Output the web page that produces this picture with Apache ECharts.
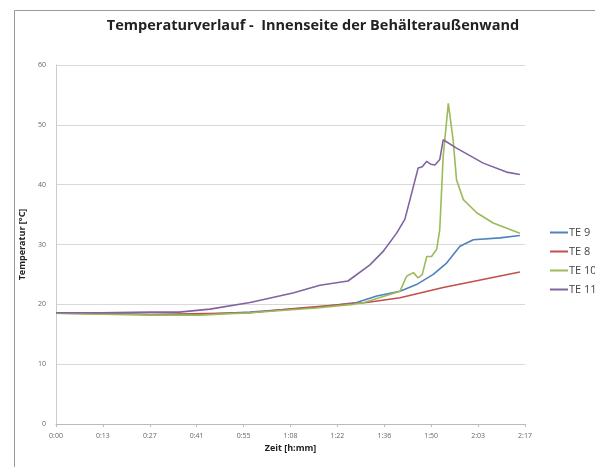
<!DOCTYPE html>
<html><head><meta charset="utf-8">
<script src="https://cdn.jsdelivr.net/npm/echarts@6/dist/echarts.min.js"></script>
<style>html,body{margin:0;padding:0;background:#fff}#c{width:595px;height:467px}</style>
</head><body><div id="c"></div>
<script>
// tick labels (x axis, h:mm) — 10 equal steps over 0..137 min
const xTickLabels = ['0:00','0:13','0:27','0:41','0:55','1:08','1:22','1:36','1:50','2:03','2:17'];
const xMaxMin = 137;
const yTicks = [0,10,20,30,40,50,60];

// series: time in minutes, temperature in °C
const te9T = [0, 27.5, 42, 56.7, 76, 87.8, 93.7, 100.5, 105.3, 110.2, 114.1, 118, 121.9, 129.7, 135.5];
const te9V = [18.6, 18.3, 18.3, 18.7, 19.5, 20.3, 21.4, 22.2, 23.3, 25.0, 26.9, 29.7, 30.8, 31.1, 31.5];

const te8T = [0, 27.5, 56.7, 71.3, 90.7, 100.5, 113.1, 120, 135.5];
const te8V = [18.5, 18.3, 18.6, 19.4, 20.3, 21.1, 22.8, 23.6, 25.4];

const te10T = [0, 27.5, 42, 56.7, 76, 86.8, 90, 100.5, 102.4, 104.4, 105.8, 107, 108.3, 109.7, 111.2, 112.1, 113.1, 114.6, 116, 117, 119, 122.9, 127.7, 135.5];
const te10V = [18.5, 18.2, 18.2, 18.6, 19.4, 20.0, 20.3, 22.2, 24.7, 25.3, 24.4, 25.0, 28.0, 28.0, 29.2, 32.5, 44.7, 53.6, 47.5, 40.8, 37.5, 35.3, 33.6, 31.9];

const te11T = [0, 12.9, 27.5, 36, 45, 56.7, 69.2, 77.1, 85.3, 91.7, 95.5, 99.5, 101.9, 103.4, 105.8, 107, 108.3, 109.5, 110.7, 112.1, 113.1, 117, 124.8, 131.6, 135.5];
const te11V = [18.6, 18.6, 18.7, 18.7, 19.2, 20.3, 21.9, 23.2, 23.9, 26.6, 28.8, 31.9, 34.2, 37.5, 42.8, 43.0, 43.9, 43.4, 43.3, 44.2, 47.5, 46.1, 43.6, 42.1, 41.7];

const names = ['TE 9','TE 8','TE 10','TE 11'];
const colors = ['#4F81BD','#C0504D','#9BBB59','#8064A2'];
const step = xMaxMin / (xTickLabels.length - 1);
function pts(t, v){ return t.map((x,i)=>[x/step, v[i]]); }
const data = [pts(te9T,te9V), pts(te8T,te8V), pts(te10T,te10V), pts(te11T,te11V)];

const chart = echarts.init(document.getElementById('c'), null, {renderer:'canvas'});
const font = '"Open Sans", "Liberation Sans", sans-serif';
chart.setOption({
  animation:false,
  backgroundColor:'#fff',
  textStyle:{fontFamily:font},
  title:{text:'Temperaturverlauf -  Innenseite der Behälteraußenwand', left:308, top:13, textAlign:'center',
    textStyle:{fontSize:14.5, fontWeight:'bold', color:'#222', fontFamily:font}},
  graphic:[{type:'rect', shape:{x:14.5,y:10.5,width:600,height:480}, style:{fill:'none', stroke:'#999', lineWidth:1}, silent:true, z:-1}],
  legend:{orient:'vertical', left:545, top:222, itemGap:8, itemWidth:18, itemHeight:2, icon:'rect',
    data:names, textStyle:{fontSize:11, color:'#444', padding:[0,0,0,-4]}},
  grid:{left:56, right:70, top:65, bottom:43, containLabel:false},
  xAxis:{type:'value', min:0, max:xTickLabels.length-1, interval:1,
    name:'Zeit [h:mm]', nameLocation:'middle', nameGap:20,
    nameTextStyle:{fontSize:9, fontWeight:'bold', color:'#222'},
    axisLine:{lineStyle:{color:'#bbb'}}, axisTick:{show:true, length:3, lineStyle:{color:'#bbb'}},
    splitLine:{show:false},
    axisLabel:{fontSize:7, color:'#666', margin:8, formatter:(v)=>xTickLabels[Math.round(v)]||''}},
  yAxis:{type:'value', min:yTicks[0], max:yTicks[yTicks.length-1], interval:10,
    name:'Temperatur [°C]', nameLocation:'middle', nameGap:28, nameRotate:90,
    nameTextStyle:{fontSize:9, fontWeight:'bold', color:'#222'},
    axisLine:{show:true, lineStyle:{color:'#ccc'}}, axisTick:{show:false},
    splitLine:{lineStyle:{color:'#d9d9d9'}},
    axisLabel:{fontSize:7, color:'#666', margin:10}},
  series: names.map((n,i)=>({name:n, type:'line', data:data[i], showSymbol:false, symbol:'none',
    lineStyle:{color:colors[i], width:1.6}, itemStyle:{color:colors[i]}, z: i===3?5:3}))
});
</script></body></html>
